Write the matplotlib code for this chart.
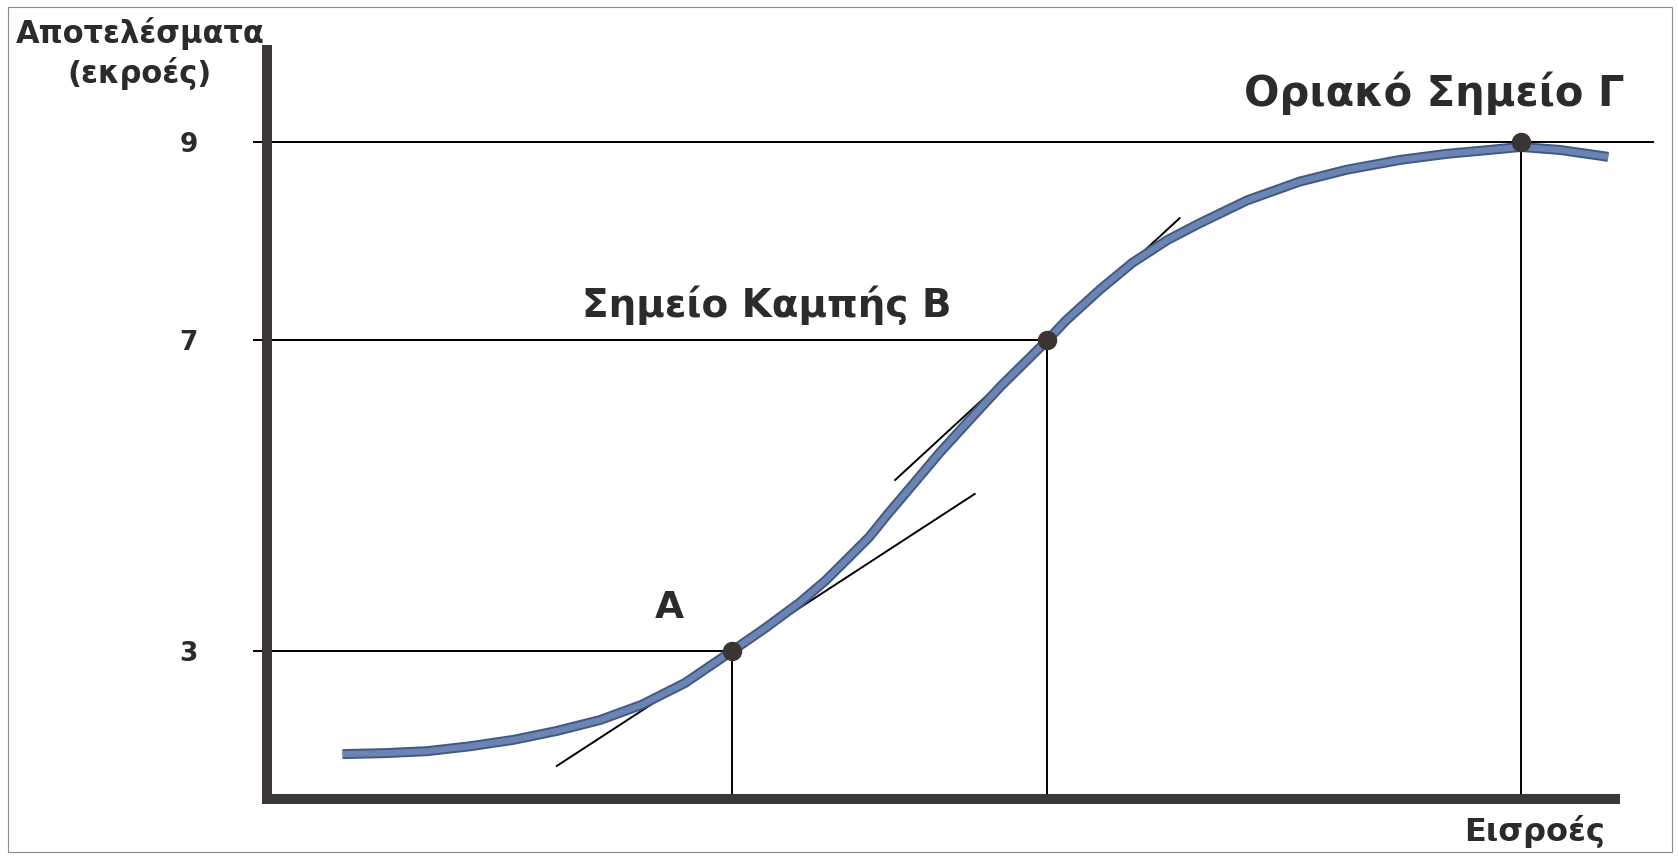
import numpy as np
import matplotlib.pyplot as plt

# Curve (inputs, outputs)
inputs = [0.56, 0.88, 1.19, 1.51, 1.83, 2.15, 2.47, 2.78, 3.10, 3.45, 3.70, 3.95, 4.14,
          4.32, 4.47, 4.60, 4.82, 4.99, 5.19, 5.44, 5.68, 5.79, 5.93, 6.18, 6.42, 6.68,
          6.92, 7.27, 7.66, 8.01, 8.41, 8.75, 9.07, 9.30, 9.59, 9.95]
outputs = [0.91, 0.93, 0.97, 1.07, 1.20, 1.38, 1.60, 1.91, 2.35, 3.00, 3.30, 3.62, 3.90,
           4.21, 4.47, 4.75, 5.20, 5.55, 5.93, 6.40, 6.81, 7.00, 7.20, 7.51, 7.78, 8.01,
           8.18, 8.41, 8.60, 8.72, 8.82, 8.88, 8.92, 8.95, 8.92, 8.85]

# marked points A, B, Γ
point_names = ['Α', 'Σημείο Καμπής Β', 'Οριακό Σημείο Γ']
point_x = [3.45, 5.79, 9.30]
point_y = [3, 7, 9]
tick_labels = ['3', '7', '9']

# tangents at A and B
tangent_a_x = [2.15, 5.25]
tangent_a_y = [0.67, 5.02]
tangent_b_x = [4.66, 6.77]
tangent_b_y = [5.20, 8.23]

# the output axis of the drawing is not to scale
level_values = [0, 3, 7, 9, 10]
level_heights = [0, 148, 459, 657, 749]

def forward(v):
    return np.interp(v, level_values, level_heights)

def inverse(h):
    return np.interp(h, level_heights, level_values)

W, H = 1679, 857
fig = plt.figure(figsize=(W / 100, H / 100), dpi=100)
ax = fig.add_axes([267 / W, 58 / H, 1348 / W, 749 / H])
ax.set_yscale('function', functions=(forward, inverse))
ax.set_xlim(0, 10)
ax.set_ylim(0, 10)

ink = '#2b2b2b'
axis_col = '#3d3838'
font = 'DejaVu Sans'

for s in ['top', 'right']:
    ax.spines[s].set_visible(False)
for s in ['left', 'bottom']:
    ax.spines[s].set_linewidth(7.2)
    ax.spines[s].set_color(axis_col)

ax.set_xticks([])
ax.set_yticks(point_y)
ax.set_yticklabels(tick_labels, fontsize=19, fontweight='bold', family=font, color=ink)
ax.tick_params(axis='y', length=0, pad=50)

# guide lines to the axes
xend = [point_x[0], point_x[1], 10.28]
for px, py, xe in zip(point_x, point_y, xend):
    ax.plot([-0.1, xe], [py, py], color='black', lw=1.4, clip_on=False, zorder=2)
    ax.plot([px, px], [0, py], color='black', lw=1.4, clip_on=False, zorder=2)

ax.plot(tangent_a_x, tangent_a_y, color='black', lw=1.4, zorder=3)
ax.plot(tangent_b_x, tangent_b_y, color='black', lw=1.4, zorder=3)

ax.plot(inputs, outputs, color='#44597f', lw=7.2, solid_capstyle='butt',
        solid_joinstyle='round', zorder=4)
ax.plot(inputs, outputs, color='#6a84b4', lw=4.4, solid_capstyle='butt',
        solid_joinstyle='round', zorder=5)

ax.plot(point_x, point_y, 'o', color='#3a3533', ms=13, zorder=6, clip_on=False)

offsets = [(-45, 31), (-202, 25), (-62, 35)]
sizes = [27, 28, 30]
for name, px, py, off, fs in zip(point_names, point_x, point_y, offsets, sizes):
    ax.annotate(name, (px, py), xytext=off, textcoords='offset points',
                ha='center', va='center', fontsize=fs, fontweight='bold',
                family=font, color=ink)

fig.text(140 / W, 1 - 34 / H, 'Αποτελέσματα', ha='center', va='center',
         fontsize=22, fontweight='bold', family=font, color=ink)
fig.text(140 / W, 1 - 74 / H, '(εκροές)', ha='center', va='center',
         fontsize=22, fontweight='bold', family=font, color=ink)
fig.text(1535 / W, 1 - 831 / H, 'Εισροές', ha='center', va='center',
         fontsize=23, fontweight='bold', family=font, color=ink)

# thin frame of the scanned page
fig.add_artist(plt.Rectangle((8 / W, 5 / H), 1664 / W, 845 / H, transform=fig.transFigure,
                             fill=False, edgecolor='#8a8a8a', lw=0.8))

fig.savefig('out.png', dpi=100)
